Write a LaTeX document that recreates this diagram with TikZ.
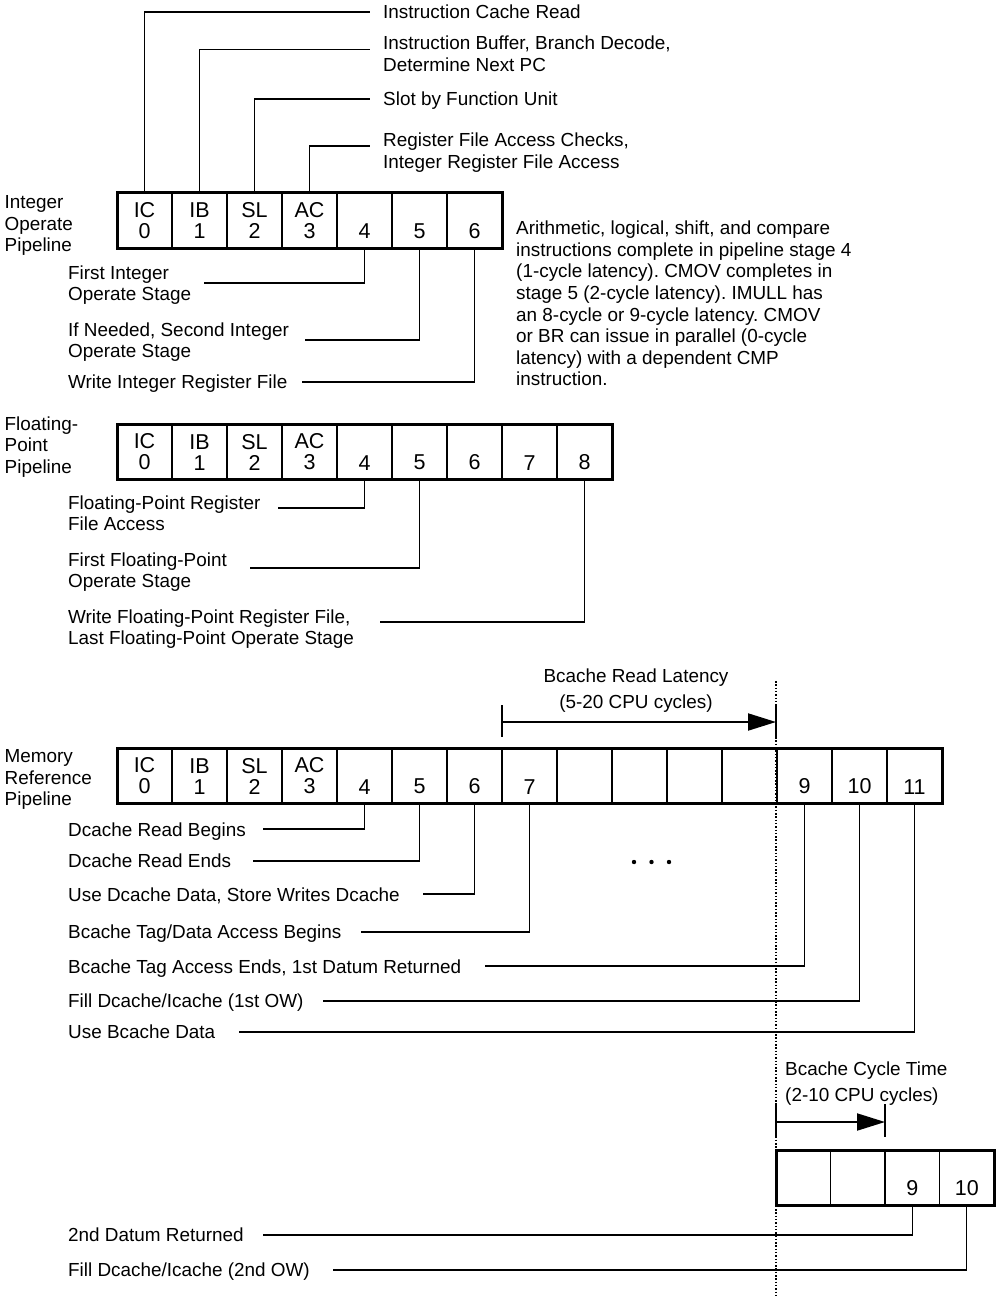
\documentclass[tikz,border=0pt]{standalone}
\usepackage{fontspec}
\setmainfont{Liberation Sans}
\usetikzlibrary{arrows.meta}
\frenchspacing
\newcommand\labfont{\fontsize{18.9}{21.5}\selectfont}
\newcommand\cellfont{\fontsize{21.5}{21}\selectfont}
\newcommand\cl[1]{\parbox[b][37pt][b]{50pt}{\centering #1}}
\newcommand\ml[1]{\begin{tabular}[t]{@{}l@{}}#1\end{tabular}}
\newcommand\mc[1]{\begin{tabular}[t]{@{}c@{}}#1\end{tabular}}
\tikzset{
  lab/.style={font=\labfont, inner sep=0pt, anchor=base west},
  lead/.style={line width=1.3pt},
  cell/.style={draw, line width=1.8pt, minimum width=55pt, minimum height=55pt,
    inner sep=0pt, outer sep=0pt, font=\cellfont},
  bcell/.style={cell, minimum width=54.5pt},
  outer/.style={line width=3pt},
  dimarrow/.style={line width=2pt, -{Triangle[length=28pt,width=17pt]}},
  tickline/.style={line width=2pt},
  dotline/.style={line width=1.6pt, dash pattern=on 1.5pt off 1.8pt},
}
\begin{document}
\begin{tikzpicture}[x=1pt,y=-1pt]
\useasboundingbox (0,0) rectangle (995,1297);

% ---------------- Integer pipeline ----------------
\foreach \t [count=\k from 0] in {{IC\\0},{IB\\1},{SL\\2},{AC\\3},4,5,6}
  \node[cell] (i\k) at ({144.5+55*\k},220.5) {\cl{\t}};
\draw[outer] (i0.north west) rectangle (i6.south east);

\node[lab] (li) at (4.5,208.5) {\ml{Integer\\Operate\\Pipeline}};

\node[lab] (t0) at (383,18.5) {Instruction Cache Read};
\node[lab] (t1) at (383,50) {\ml{Instruction Buffer, Branch Decode,\\Determine Next PC}};
\node[lab] (t2) at (383,105.5) {Slot by Function Unit};
\node[lab] (t3) at (383,147) {\ml{Register File Access Checks,\\Integer Register File Access}};
\coordinate (e0) at (370,12);
\coordinate (e1) at (370,49.5);
\coordinate (e2) at (370,99);
\coordinate (e3) at (370,146);
\draw[lead] (i0.north) |- (e0);
\draw[lead] (i1.north) |- (e1);
\draw[lead] (i2.north) |- (e2);
\draw[lead] (i3.north) |- (e3);

\node[lab] (ib4) at (68,279) {\ml{First Integer\\Operate Stage}};
\node[lab] (ib5) at (68,336) {\ml{If Needed, Second Integer\\Operate Stage}};
\node[lab] (ib6) at (68,388) {Write Integer Register File};
\coordinate (is4) at (204,283);
\coordinate (is5) at (305,340);
\coordinate (is6) at (302,382);
\draw[lead] (is4) -| (i4.south);
\draw[lead] (is5) -| (i5.south);
\draw[lead] (is6) -| (i6.south);

\node[lab] (para) at (516,235) {\ml{Arithmetic, logical, shift, and compare\\
instructions complete in pipeline stage 4\\
(1-cycle latency). CMOV completes in\\
stage 5 (2-cycle latency). IMULL has\\
an 8-cycle or 9-cycle latency. CMOV\\
or BR can issue in parallel (0-cycle\\
latency) with a dependent CMP\\
instruction.}};

% ---------------- Floating-point pipeline ----------------
\foreach \t [count=\k from 0] in {{IC\\0},{IB\\1},{SL\\2},{AC\\3},4,5,6,7,8}
  \node[cell] (f\k) at ({144.5+55*\k},451.5) {\cl{\t}};
\draw[outer] (f0.north west) rectangle (f8.south east);

\node[lab] (lf) at (4.5,430) {\ml{Floating-\\Point\\Pipeline}};

\node[lab] (fb4) at (68,509) {\ml{Floating-Point Register\\File Access}};
\node[lab] (fb5) at (68,566) {\ml{First Floating-Point\\Operate Stage}};
\node[lab] (fb8) at (68,623) {\ml{Write Floating-Point Register File,\\Last Floating-Point Operate Stage}};
\coordinate (fs4) at (278,508);
\coordinate (fs5) at (250,568);
\coordinate (fs8) at (380,622);
\draw[lead] (fs4) -| (f4.south);
\draw[lead] (fs5) -| (f5.south);
\draw[lead] (fs8) -| (f8.south);

% ---------------- Memory reference pipeline ----------------
\foreach \t [count=\k from 0] in {{IC\\0},{IB\\1},{SL\\2},{AC\\3},4,5,6,7,{},{},{},{},9,10,11}
  \node[cell] (m\k) at ({144.5+55*\k},775.5) {\cl{\t}};
\draw[outer] (m0.north west) rectangle (m14.south east);

\node[lab] (lm) at (4.5,762.5) {\ml{Memory\\Reference\\Pipeline}};

\node[lab, anchor=base] (rl) at (636,682) {\mc{Bcache Read Latency\\[5pt](5-20 CPU cycles)}};
\coordinate (ra0) at (502,722);
\coordinate (ra1) at (776,722);
\draw[tickline] ([yshift=17pt]ra0) -- ([yshift=-15pt]ra0);
\draw[tickline] ([yshift=17pt]ra1) -- ([yshift=-15pt]ra1);
\draw[dimarrow] (ra0) -- (ra1);

\node[lab] (mb4) at (68,836) {Dcache Read Begins};
\node[lab] (mb5) at (68,867) {Dcache Read Ends};
\node[lab] (mb6) at (68,901) {Use Dcache Data, Store Writes Dcache};
\node[lab] (mb7) at (68,938) {Bcache Tag/Data Access Begins};
\node[lab] (mb12) at (68,973) {Bcache Tag Access Ends, 1st Datum Returned};
\node[lab] (mb13) at (68,1007.5) {Fill Dcache/Icache (1st OW)};
\node[lab] (mb14) at (68,1038.5) {Use Bcache Data};
\coordinate (ms4) at (263,829);
\coordinate (ms5) at (253,861);
\coordinate (ms6) at (423,894);
\coordinate (ms7) at (361,932);
\coordinate (ms12) at (485,966);
\coordinate (ms13) at (323,1001);
\coordinate (ms14) at (239,1032);
\draw[lead] (ms4) -| (m4.south);
\draw[lead] (ms5) -| (m5.south);
\draw[lead] (ms6) -| (m6.south);
\draw[lead] (ms7) -| (m7.south);
\draw[lead] (ms12) -| (m12.south);
\draw[lead] (ms13) -| (m13.south);
\draw[lead] (ms14) -| (m14.south);

\fill (634,862) circle (2.2pt);
\fill (651.5,862) circle (2.2pt);
\fill (669,862) circle (2.2pt);

% ---------------- Bcache cycle ----------------
\foreach \t [count=\k from 0] in {{},{},9,10}
  \node[bcell] (b\k) at ({803.25+54.5*\k},1177.5) {\cl{\t}};
\draw[outer] (b0.north west) rectangle (b3.south east);

\node[lab] (ct) at (785,1075) {\ml{Bcache Cycle Time\\[5pt](2-10 CPU cycles)}};
\coordinate (ca0) at (776,1122);
\coordinate (ca1) at (885,1122);
\draw[tickline] ([yshift=18pt]ca0) -- ([yshift=-15pt]ca0);
\draw[tickline] ([yshift=18pt]ca1) -- ([yshift=-15pt]ca1);
\draw[dimarrow] (ca0) -- (ca1);

\node[lab] (bb2) at (68,1241.5) {2nd Datum Returned};
\node[lab] (bb3) at (68,1276) {Fill Dcache/Icache (2nd OW)};
\coordinate (bs2) at (263,1235);
\coordinate (bs3) at (333,1270);
\draw[lead] (bs2) -| (b2.south);
\draw[lead] (bs3) -| (b3.south);

% dotted reference line
\coordinate (dtop) at (776,681);
\coordinate (dbot) at (776,1297);
\draw[dotline] (dtop) -- (dbot);
\end{tikzpicture}
\end{document}
